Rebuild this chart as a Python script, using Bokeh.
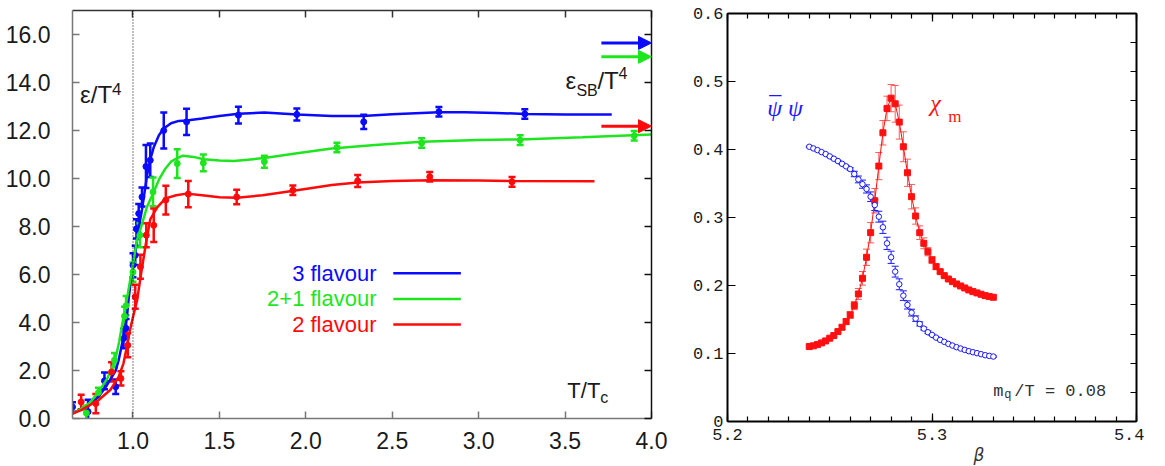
from bokeh.plotting import figure
from bokeh.models import (ColumnDataSource, Whisker, TeeHead, Arrow, NormalHead, Label, Span, Title,
                          LinearAxis, Range1d, SingleIntervalTicker, NumeralTickFormatter, FixedTicker)
from bokeh.layouts import row, column
from bokeh.embed import file_html
from bokeh.resources import INLINE
import numpy as np

BLUE = "#0a0aff"
GREEN = "#1ee61e"
RED = "#ff0a0a"

# ---------------- left panel data: energy density eps/T^4 vs T/Tc ----------------
x3_pts = [0.65, 0.74, 0.835, 0.90, 0.945, 0.96, 1.0, 1.013, 1.02, 1.033, 1.052, 1.075, 1.10, 1.178, 1.31, 1.61, 1.948, 2.335, 2.77, 3.267]
y3_pts = [0.48, 0.28, 1.57, 1.32, 3.33, 3.75, 6.39, 6.8, 7.9, 8.54, 9.23, 10.5, 10.76, 12.0, 12.36, 12.64, 12.67, 12.36, 12.78, 12.69]
e3_pts = [0.2, 0.5, 0.35, 0.3, 0.4, 0.4, 0.5, 0.4, 0.4, 0.4, 0.4, 0.9, 0.7, 0.75, 0.55, 0.35, 0.25, 0.3, 0.2, 0.2]

x21_pts = [0.73, 0.80, 0.893, 0.951, 0.96, 1.0, 1.04, 1.116, 1.256, 1.407, 1.76, 2.18, 2.67, 3.24, 3.90]
y21_pts = [0.23, 1.08, 2.43, 4.26, 4.7, 6.1, 7.64, 9.44, 10.62, 10.65, 10.7, 11.29, 11.48, 11.6, 11.78]
e21_pts = [0.3, 0.2, 0.3, 0.4, 0.4, 0.4, 0.5, 0.6, 0.6, 0.35, 0.25, 0.2, 0.2, 0.2, 0.2]

x2_pts = [0.70, 0.785, 0.876, 0.93, 0.97, 1.013, 1.043, 1.077, 1.12, 1.19, 1.32, 1.60, 1.925, 2.30, 2.717, 3.193]
y2_pts = [0.69, 0.62, 1.94, 1.67, 3.05, 5.07, 6.32, 7.64, 8.05, 9.1, 9.35, 9.23, 9.51, 9.9, 10.07, 9.86]
e2_pts = [0.3, 0.4, 0.4, 0.3, 0.5, 0.5, 0.5, 0.5, 0.7, 0.6, 0.55, 0.3, 0.2, 0.25, 0.2, 0.2]

x3_fit = [0.65, 0.7, 0.75, 0.8, 0.85, 0.9, 0.917, 0.945, 0.965, 0.975, 0.99, 1.004, 1.013, 1.03, 1.052, 1.08, 1.1, 1.12, 1.15, 1.178, 1.22, 1.265, 1.31, 1.4, 1.5, 1.61, 1.76, 1.95, 2.15, 2.33, 2.5, 2.77, 2.92, 3.1, 3.27, 3.5, 3.77]
y3_fit = [0.2, 0.4, 0.6, 0.9, 1.4, 2.0, 2.43, 3.4, 4.23, 5.0, 5.9, 6.6, 6.9, 7.8, 8.7, 10.07, 10.8, 11.3, 11.8, 12.08, 12.3, 12.4, 12.42, 12.5, 12.6, 12.7, 12.75, 12.67, 12.6, 12.6, 12.68, 12.76, 12.76, 12.73, 12.69, 12.67, 12.67]

x21_fit = [0.65, 0.7, 0.75, 0.8, 0.85, 0.897, 0.92, 0.945, 0.97, 0.994, 1.023, 1.052, 1.08, 1.12, 1.15, 1.188, 1.22, 1.256, 1.29, 1.35, 1.41, 1.5, 1.585, 1.76, 1.95, 2.15, 2.4, 2.67, 3.0, 3.24, 3.6, 4.0]
y21_fit = [0.2, 0.4, 0.65, 1.1, 1.65, 2.43, 3.2, 4.23, 5.2, 6.18, 7.43, 8.1, 8.8, 9.44, 9.95, 10.42, 10.7, 10.85, 10.95, 10.9, 10.8, 10.75, 10.73, 10.85, 11.05, 11.25, 11.4, 11.53, 11.6, 11.63, 11.72, 11.83]

x2_fit = [0.65, 0.7, 0.8, 0.87, 0.917, 0.945, 0.965, 0.98, 1.0, 1.024, 1.05, 1.075, 1.1, 1.14, 1.188, 1.25, 1.31, 1.4, 1.5, 1.6, 1.75, 1.93, 2.15, 2.3, 2.5, 2.72, 3.0, 3.19, 3.67]
y2_fit = [0.2, 0.35, 0.76, 1.2, 1.73, 2.3, 3.0, 3.6, 4.23, 4.93, 6.18, 7.3, 8.3, 8.8, 9.17, 9.3, 9.37, 9.3, 9.22, 9.2, 9.3, 9.49, 9.73, 9.83, 9.9, 9.93, 9.92, 9.9, 9.89]

sb_limits = [15.65, 15.07, 12.18]
legend_names = ["3 flavour", "2+1 flavour", "2 flavour"]
x_ticks_left = [1.0, 1.5, 2.0, 2.5, 3.0, 3.5, 4.0]

# ---------------- right panel data: chiral condensate and susceptibility vs beta ----------------
beta = [5.240, 5.242, 5.244, 5.246, 5.248, 5.250, 5.252, 5.254, 5.256, 5.258,
        5.260, 5.262, 5.264, 5.266, 5.268, 5.270, 5.272, 5.274, 5.276, 5.278,
        5.280, 5.282, 5.284, 5.286, 5.288, 5.290, 5.292, 5.294, 5.296, 5.298,
        5.300, 5.302, 5.304, 5.306, 5.308, 5.310, 5.312, 5.314, 5.316, 5.318,
        5.320, 5.322, 5.324, 5.326, 5.328, 5.330]
pbp = [0.404, 0.4016, 0.3991, 0.3962, 0.3933, 0.3899, 0.3864, 0.383, 0.379, 0.3752,
       0.3712, 0.364, 0.356, 0.349, 0.342, 0.3306, 0.3183, 0.3012, 0.2856, 0.262,
       0.2415, 0.2204, 0.2018, 0.1851, 0.1714, 0.1601, 0.1513, 0.1435, 0.1366, 0.1313,
       0.1274, 0.1234, 0.12, 0.1171, 0.1141, 0.1117, 0.1093, 0.1073, 0.1053, 0.1034,
       0.1019, 0.1005, 0.099, 0.0975, 0.0965, 0.0955]
pbp_err = [0.001, 0.001, 0.001, 0.001, 0.001, 0.001, 0.001, 0.001, 0.001, 0.001,
           0.002, 0.004, 0.005, 0.006, 0.006, 0.007, 0.008, 0.008, 0.009, 0.009,
           0.009, 0.008, 0.008, 0.007, 0.006, 0.005, 0.004, 0.003, 0.002, 0.002,
           0.001, 0.001, 0.001, 0.001, 0.001, 0.001, 0.001, 0.001, 0.001, 0.001,
           0.001, 0.001, 0.001, 0.001, 0.001, 0.001]
chi = [0.1102, 0.1113, 0.1131, 0.1156, 0.1185, 0.1225, 0.1264, 0.1322, 0.1386, 0.1469,
       0.1567, 0.1705, 0.1876, 0.2106, 0.2415, 0.2777, 0.3247, 0.3756, 0.4246, 0.4604,
       0.4755, 0.4672, 0.4403, 0.404, 0.3658, 0.3306, 0.3022, 0.2777, 0.262, 0.2497,
       0.2376, 0.2277, 0.2204, 0.2145, 0.2096, 0.2057, 0.2023, 0.1993, 0.1964, 0.1935,
       0.191, 0.1891, 0.1871, 0.1851, 0.1837, 0.1827]
chi_err = [0.002, 0.002, 0.002, 0.002, 0.002, 0.002, 0.002, 0.002, 0.003, 0.004,
           0.005, 0.006, 0.008, 0.01, 0.012, 0.015, 0.018, 0.02, 0.018, 0.018,
           0.02, 0.027, 0.025, 0.022, 0.02, 0.018, 0.012, 0.01, 0.008, 0.006,
           0.005, 0.004, 0.002, 0.002, 0.002, 0.002, 0.002, 0.002, 0.002, 0.002,
           0.002, 0.002, 0.002, 0.002, 0.002, 0.002]
y_ticks_right = [0, 0.1, 0.2, 0.3, 0.4, 0.5, 0.6]
y_labels_right = ["0", "0.1", "0.2", "0.3", "0.4", "0.5", "0.6"]

SANS = "Liberation Sans"
MONO = "Liberation Mono"
SERIF = "Liberation Serif"

# =============== left figure ===============
p1 = figure(frame_width=579, frame_height=408, x_range=Range1d(0.65, 4.0), y_range=Range1d(0, 17),
            x_axis_type=None, y_axis_type=None, output_backend="svg", toolbar_location=None,
            min_border_left=72, min_border_right=32, min_border_top=10, min_border_bottom=46)
p1.outline_line_color = None
p1.xgrid.visible = False
p1.ygrid.visible = False


def style_axis(ax, color, labels=True, font=SANS, size="23px", standoff=12, tick_in=7):
    ax.axis_line_color = color
    ax.axis_line_width = 1.5
    ax.major_tick_line_color = color
    ax.major_tick_line_width = 1.5
    ax.major_tick_in = tick_in
    ax.major_tick_out = 0
    ax.minor_tick_line_color = None
    ax.major_label_standoff = standoff if labels else 0
    if labels:
        ax.major_label_text_font = font
        ax.major_label_text_font_size = size
        ax.major_label_text_color = "#1a1a1a"
    else:
        ax.major_label_text_font_size = "0px"
        ax.major_label_text_color = None


xb = LinearAxis(ticker=FixedTicker(ticks=x_ticks_left), formatter=NumeralTickFormatter(format="0.0"))
style_axis(xb, "#777777", standoff=13)
p1.add_layout(xb, "below")
xt = LinearAxis(ticker=FixedTicker(ticks=x_ticks_left))
style_axis(xt, "#333333", labels=False)
p1.add_layout(xt, "above")
yl = LinearAxis(ticker=SingleIntervalTicker(interval=2), formatter=NumeralTickFormatter(format="0.0"))
style_axis(yl, "#777777", standoff=18)
p1.add_layout(yl, "left")
yr = LinearAxis(ticker=SingleIntervalTicker(interval=2))
style_axis(yr, "#111111", labels=False)
p1.add_layout(yr, "right")

p1.add_layout(Span(location=1.0, dimension="height", line_color="black", line_width=1, line_dash="1 2"))

series = [
    (x3_fit, y3_fit, x3_pts, y3_pts, e3_pts, BLUE),
    (x21_fit, y21_fit, x21_pts, y21_pts, e21_pts, GREEN),
    (x2_fit, y2_fit, x2_pts, y2_pts, e2_pts, RED),
]
for xf, yf, xp, yp, ep, col in series:
    p1.line(xf, yf, line_color=col, line_width=2.5)
    src = ColumnDataSource(dict(x=xp, y=yp,
                                lo=list(np.array(yp) - np.array(ep)),
                                hi=list(np.array(yp) + np.array(ep))))
    p1.add_layout(Whisker(source=src, base="x", upper="hi", lower="lo", dimension="height",
                          line_color=col, line_width=2.5,
                          upper_head=TeeHead(size=7, line_color=col, line_width=2.5),
                          lower_head=TeeHead(size=7, line_color=col, line_width=2.5)))
    p1.scatter(xp, yp, size=6, color=col)

for sb, col in zip(sb_limits, [BLUE, GREEN, RED]):
    p1.add_layout(Arrow(end=NormalHead(size=13, fill_color=col, line_color=col),
                        x_start=3.71, y_start=sb, x_end=4.0, y_end=sb,
                        line_color=col, line_width=3))

# legend
leg_y = [6.05, 4.98, 3.92]
for name, yy, col in zip(legend_names, leg_y, [BLUE, GREEN, RED]):
    p1.add_layout(Label(x=2.409, y=yy, text=name, text_align="right", text_baseline="middle",
                        text_font=SANS, text_font_size="22px", text_color=col))
p1.segment(x0=[2.506] * 3, x1=[2.897] * 3, y0=leg_y, y1=leg_y,
           line_color=[BLUE, GREEN, RED], line_width=2.5)


def lab(fig, x, y, text, size, xo=0, yo=0, font=SANS, color="#1a1a1a", style="normal", align="left"):
    fig.add_layout(Label(x=x, y=y, text=text, x_offset=xo, y_offset=yo, text_font=font,
                         text_font_size=size, text_color=color, text_font_style=style,
                         text_align=align, text_baseline="middle"))


lab(p1, 0.6936, 13.48, "ε/T", "24px")
lab(p1, 0.6936, 13.48, "4", "17px", xo=32, yo=6)
lab(p1, 3.502, 14.1, "ε", "24px")
lab(p1, 3.502, 14.1, "SB", "16px", xo=11, yo=-10)
lab(p1, 3.502, 14.1, "/T", "24px", xo=32)
lab(p1, 3.502, 14.1, "4", "16px", xo=53, yo=7)
lab(p1, 3.513, 1.15, "T/T", "22px")
lab(p1, 3.513, 1.15, "c", "16px", xo=33, yo=-7)

# =============== right figure ===============
p2 = figure(frame_width=409, frame_height=408, x_range=Range1d(5.2, 5.4), y_range=Range1d(0, 0.6),
            x_axis_type=None, y_axis_type=None, output_backend="svg", toolbar_location=None,
            min_border_left=44, min_border_right=8, min_border_top=13, min_border_bottom=44)
p2.extra_y_ranges = {"r": Range1d(0, 14)}
p2.outline_line_color = None
p2.xgrid.visible = False
p2.ygrid.visible = False


def style_axis2(ax, labels=True, standoff=6):
    style_axis(ax, "#000000", labels=labels, font=MONO, size="17px", standoff=standoff, tick_in=8)
    ax.axis_line_width = 2
    ax.major_tick_line_width = 1.2
    ax.minor_tick_line_color = "#000000"
    ax.minor_tick_line_width = 1.2
    ax.minor_tick_in = 5
    ax.minor_tick_out = 0


bx = LinearAxis(ticker=SingleIntervalTicker(interval=0.1, num_minor_ticks=10))
style_axis2(bx, standoff=7)
p2.add_layout(bx, "below")
tx = LinearAxis(ticker=SingleIntervalTicker(interval=0.1, num_minor_ticks=10))
style_axis2(tx, labels=False)
p2.add_layout(tx, "above")
ly = LinearAxis(ticker=FixedTicker(ticks=y_ticks_right),
                major_label_overrides={t: s for t, s in zip(y_ticks_right, y_labels_right)})
style_axis2(ly, standoff=4)
ly.minor_tick_line_color = None
p2.add_layout(ly, "left")
ry = LinearAxis(y_range_name="r", ticker=SingleIntervalTicker(interval=1))
style_axis2(ry, labels=False)
ry.major_tick_in = 6
ry.minor_tick_line_color = None
p2.add_layout(ry, "right")
p2.add_layout(Title(text="β", align="left", offset=246, standoff=0, text_font="DejaVu Sans",
                    text_font_style="italic", text_font_size="17px", text_color="#333333"), "below")

BLUE2 = "#1a1aff"
RED2 = "#ff1010"
src_c = ColumnDataSource(dict(x=beta, y=chi,
                              lo=list(np.array(chi) - np.array(chi_err)),
                              hi=list(np.array(chi) + np.array(chi_err))))
src_p = ColumnDataSource(dict(x=beta, y=pbp,
                              lo=list(np.array(pbp) - np.array(pbp_err)),
                              hi=list(np.array(pbp) + np.array(pbp_err))))
p2.line(beta, chi, line_color=RED2, line_width=1)
p2.add_layout(Whisker(source=src_c, base="x", upper="hi", lower="lo", line_color="#ff5a5a", line_width=1,
                      upper_head=TeeHead(size=7, line_color="#ff5a5a", line_width=1),
                      lower_head=TeeHead(size=7, line_color="#ff5a5a", line_width=1)))
p2.scatter(beta, chi, marker="square", size=6, color=RED2)
p2.add_layout(Whisker(source=src_p, base="x", upper="hi", lower="lo", line_color=BLUE2, line_width=1,
                      upper_head=TeeHead(size=7, line_color=BLUE2, line_width=1),
                      lower_head=TeeHead(size=7, line_color=BLUE2, line_width=1)))
p2.scatter(beta, pbp, marker="circle", size=5.5, fill_color="white", line_color=BLUE2, line_width=1)

lab(p2, 5.2194, 0.4614, "ψ ψ", "24px", font=SERIF, color=BLUE2, style="italic")
lab(p2, 5.2194, 0.4614, "¯", "24px", xo=2, yo=3, font=SERIF, color=BLUE2)
lab(p2, 5.2992, 0.468, "χ", "24px", font=SERIF, color=RED2, style="italic")
lab(p2, 5.2992, 0.468, "m", "17px", xo=18, yo=-13, font=SERIF, color=RED2)
lab(p2, 5.33, 0.0444, "m", "17px", font=MONO, color="#333333")
lab(p2, 5.33, 0.0444, "q", "12px", xo=11, yo=-4, font=MONO, color="#333333")
lab(p2, 5.33, 0.0444, "/T = 0.08", "17px", xo=21, font=MONO, color="#333333")

layout = row(column(p1), column(p2))
open("out.html", "w").write(file_html(layout, INLINE))
